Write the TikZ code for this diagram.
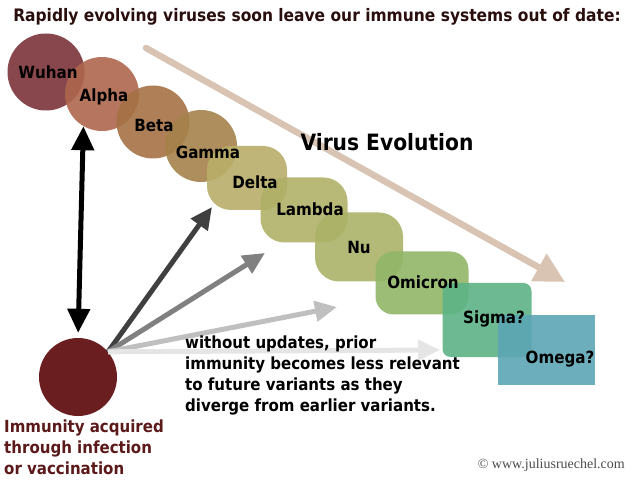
\documentclass[tikz,border=0pt]{standalone}
\usepackage{xcolor}
\usepackage{fontspec}
\setmainfont{DejaVu Sans Condensed}
\newfontfamily\webfont{Liberation Serif}
\usetikzlibrary{arrows.meta, positioning, calc}

\definecolor{wuhanc}{HTML}{7A3339}
\definecolor{alphac}{HTML}{AD664C}
\definecolor{betac}{HTML}{A67246}
\definecolor{gammac}{HTML}{A6824C}
\definecolor{deltac}{HTML}{B9AD69}
\definecolor{lambdac}{HTML}{B0B068}
\definecolor{nuc}{HTML}{ABB369}
\definecolor{omicronc}{HTML}{90B667}
\definecolor{sigmac}{HTML}{5DB386}
\definecolor{omegac}{HTML}{5CA5B4}
\definecolor{immc}{HTML}{6B1E1F}
\definecolor{evoc}{HTML}{D9C4B4}
\definecolor{titlec}{HTML}{2A0E0E}

\begin{document}
\begin{tikzpicture}[
            x=1pt, y=-1pt,
            variant/.style={draw=none, fill opacity=0.9, inner sep=0pt},
            blob/.style={variant, circle, minimum size=#1},
            pill/.style={variant, rectangle, rounded corners=#1},
            vlabel/.style={inner sep=0pt, font=\bfseries\fontsize{16.8}{19}\selectfont},
            note/.style={align=left, font=\bfseries\fontsize{16.7}{21}\selectfont},
            fan/.style={line width=5pt, -{Triangle[length=22pt, width=20pt]}}
        ]
            \useasboundingbox (0,0) rectangle (640,486);

            % Title
            \node[font=\bfseries\fontsize{17.2}{20}\selectfont, text=titlec] (title) at (317,17) {Rapidly evolving viruses soon leave our immune systems out of date:};

            % Trend arrow
            \coordinate (evostart) at (146,48);
            \coordinate (evoend) at (565,282);
            \draw[evoc, line width=6.5pt, line cap=round, -{Triangle[length=30pt, width=30pt]}] (evostart) -- (evoend);
            \node[font=\bfseries\fontsize{22.5}{26}\selectfont] (evo) at (387,142) {Virus Evolution};

            % Variants
            \node[blob=77pt, fill=wuhanc] (wuhan) at (46,72) {};
            \node[blob=74pt, fill=alphac] (alpha) at (102,94) {};
            \node[blob=73pt, fill=betac] (beta) at (153,122) {};
            \node[blob=72pt, fill=gammac] (gamma) at (201,146) {};
            \node[pill=24pt, fill=deltac, minimum width=80pt, minimum height=64pt] (delta) at (247,178) {};
            \node[pill=24pt, fill=lambdac, minimum width=87pt, minimum height=65pt] (lambda) at (304,210) {};
            \node[pill=24pt, fill=nuc, minimum width=88pt, minimum height=69pt] (nu) at (359,247) {};
            \node[pill=18pt, fill=omicronc, minimum width=93pt, minimum height=63pt] (omicron) at (422,283) {};
            \node[pill=8pt, fill=sigmac, minimum width=89pt, minimum height=74pt] (sigma) at (487,320) {};
            \node[variant, rectangle, fill=omegac, minimum width=97pt, minimum height=70pt] (omega) at (546,350) {};

            % Variant names, on top of the shapes
            \foreach \v/\t/\dx/\dy in {wuhan/Wuhan/2/0, alpha/Alpha/2/3, beta/Beta/1/3, gamma/Gamma/7/6,
                                      delta/Delta/8/4, lambda/Lambda/6/-1, nu/Nu/0/0, omicron/Omicron/1/-1,
                                      sigma/Sigma?/7/-1, omega/Omega?/14/9}
                \node[vlabel] (\v lbl) at ($(\v)+(\dx,\dy)$) {\t};

            % Immunity
            \node[circle, fill=immc, minimum size=78pt, inner sep=0pt] (imm) at (78,377) {};
            \node[note, text=immc!85!black, anchor=north west, inner sep=0pt] (immtext) at (4,420) {Immunity acquired\\through infection\\or vaccination};

            % Arrows
            \draw[line width=5pt, {Triangle[length=24pt, width=22pt]}-{Triangle[length=24pt, width=22pt]}, shorten <=5pt] (imm.north) -- (alpha.240);

            \coordinate (tipa) at (212,207);
            \coordinate (tipb) at (265,253);
            \coordinate (tipc) at (337,307);
            \coordinate (tipd) at (440,350);
            \draw[fan, black!75] (imm.40) -- (tipa);
            \draw[fan, black!50] (imm.40) -- (tipb);
            \draw[fan, black!25] (imm.40) -- (tipc);
            \draw[fan, black!10] (imm.40) -- (tipd);

            % Notes
            \node[note, anchor=north west, inner sep=0pt] (loss) at (185,336) {without updates, prior\\immunity becomes less relevant\\to future variants as they\\diverge from earlier variants.};
            \node[font=\webfont\fontsize{14}{16}\selectfont, text=black!70, anchor=east, inner sep=0pt] (credit) at (625,465) {\textcopyright{} www.juliusruechel.com};
        \end{tikzpicture}
\end{document}
